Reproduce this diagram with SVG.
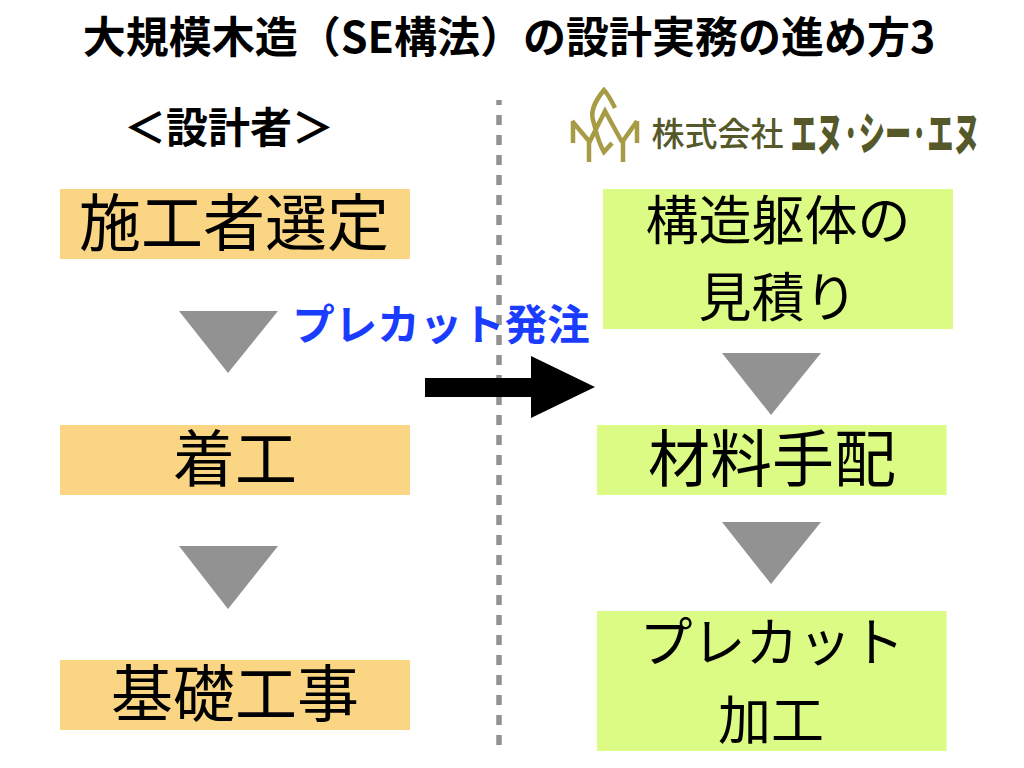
<svg xmlns="http://www.w3.org/2000/svg" width="1024" height="768" viewBox="0 0 1024 768">
<style>
text{font-family:"Noto Sans CJK JP","Liberation Sans",sans-serif;text-anchor:middle;fill:#000}
.n{font-size:62px}
.m{font-size:53px}
.o{fill:#f9d584}
.g{fill:#dcfb84}
.t{fill:#929292}
.mark{fill:none;stroke:#a89b45;stroke-width:4.5}
</style>
<rect width="1024" height="768" fill="#fff"/>
<text x="509" y="53" font-size="43" font-weight="700">大規模木造（SE構法）の設計実務の進め方3</text>
<text x="229" y="143" font-size="42" font-weight="700">＜設計者＞</text>
<g id="divider"><line x1="499" y1="100" x2="499" y2="746" stroke="#929292" stroke-width="5.5" stroke-dasharray="10 10" stroke-dashoffset="5"/></g>
<g id="logo">
<path class="mark" d="M573 121V143M572 121L589 141V162M637 121V143M637 121L623 141V162M589 143L605 111L622 142M615 108C610 98 607 93 604 90C596 100 590 110 593 120C596 130 597 140 604 152L612 143"/>
<text x="717.500" y="146" font-size="33" font-weight="500" style="fill:#55592a">株式会社</text>
<text transform="translate(885 150) scale(.57 1)" font-size="46" font-weight="900" style="fill:#55592a">エヌ·シー·エヌ</text>
</g>
<g id="n1"><rect class="o" x="60" y="189" width="350" height="70"/><text class="n" x="234" y="246">施工者選定</text></g>
<g id="n2"><rect class="o" x="60" y="425" width="350" height="70"/><text class="n" x="235" y="482">着工</text></g>
<g id="n3"><rect class="o" x="60" y="660" width="350" height="70"/><text class="n" x="235" y="717">基礎工事</text></g>
<g id="n4"><rect class="g" x="603" y="189" width="350" height="140"/><text class="m" x="778" y="240">構造躯体の</text><text class="m" x="778" y="317">見積り</text></g>
<g id="n5"><rect class="g" x="597" y="425" width="349.500" height="70"/><text class="n" x="772" y="482">材料手配</text></g>
<g id="n6"><rect class="g" x="597" y="611" width="349.500" height="140"/><text class="m" x="772" y="662">プレカット</text><text class="m" x="771" y="740">加工</text></g>
<g id="connectors">
<polygon class="t" points="179,311 278,311 228,373"/>
<polygon class="t" points="179,546 278,546 228,609"/>
<polygon class="t" points="722,353 821,353 771,415"/>
<polygon class="t" points="722,522 821,522 771,584"/>
<polygon points="425,378 531,378 531,356 595,387 531,418 531,397 425,397" fill="#000"/>
</g>
<text x="441" y="340" font-size="42.500" font-weight="700" style="fill:#1a3cff">プレカット発注</text>
</svg>
